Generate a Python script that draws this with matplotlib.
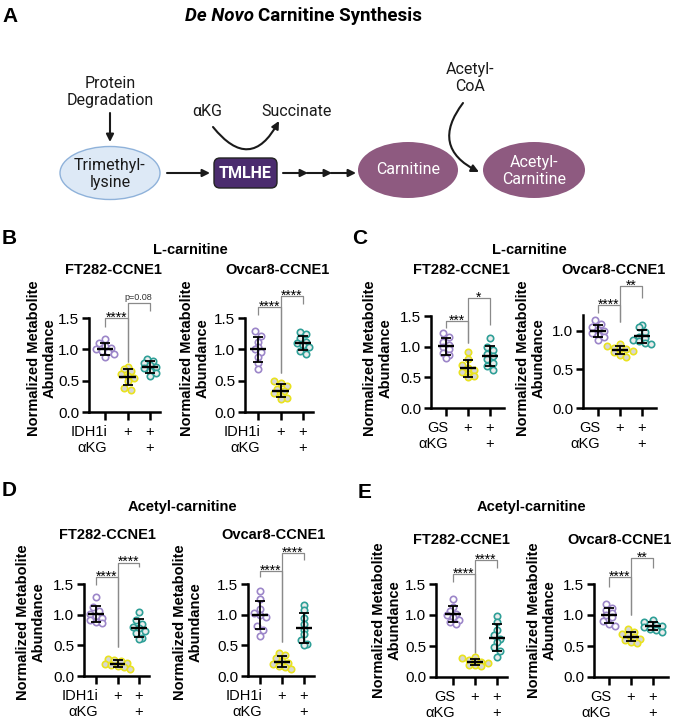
import numpy as np
import matplotlib
matplotlib.use("Agg")
import matplotlib.pyplot as plt
from matplotlib.patches import Ellipse, FancyBboxPatch, FancyArrowPatch
from matplotlib.transforms import blended_transform_factory

plt.rcParams['font.family'] = ['Liberation Sans', 'DejaVu Sans']

# ---------------- data (normalized metabolite abundance) ----------------
# B: L-carnitine, IDH1 inhibitor (IDH1i) +/- aKG
b_ft282_ctrl = [1.16, 1.10, 1.05, 1.02, 1.00, 0.98, 0.95, 0.92, 0.87]
b_ft282_inh = [0.72, 0.68, 0.65, 0.60, 0.58, 0.55, 0.50, 0.38, 0.35]
b_ft282_akg = [0.85, 0.82, 0.78, 0.75, 0.72, 0.70, 0.66, 0.62, 0.58]
b_ovcar8_ctrl = [1.30, 1.22, 1.12, 1.04, 1.00, 0.96, 0.88, 0.78, 0.68]
b_ovcar8_inh = [0.50, 0.46, 0.42, 0.36, 0.33, 0.30, 0.26, 0.22, 0.20]
b_ovcar8_akg = [1.28, 1.24, 1.18, 1.12, 1.10, 1.07, 1.03, 0.98, 0.92]
# C: L-carnitine, GS +/- aKG
c_ft282_ctrl = [1.22, 1.16, 1.08, 1.03, 1.00, 0.96, 0.90, 0.86, 0.82]
c_ft282_inh = [0.92, 0.80, 0.70, 0.65, 0.62, 0.58, 0.55, 0.52, 0.50]
c_ft282_akg = [1.14, 1.00, 0.95, 0.88, 0.85, 0.80, 0.74, 0.68, 0.62]
c_ovcar8_ctrl = [1.13, 1.08, 1.04, 1.01, 1.00, 0.97, 0.94, 0.91, 0.88]
c_ovcar8_inh = [0.83, 0.80, 0.78, 0.77, 0.76, 0.74, 0.72, 0.69, 0.66]
c_ovcar8_akg = [1.07, 1.04, 0.98, 0.92, 0.90, 0.88, 0.86, 0.84, 0.83]
# D: Acetyl-carnitine, IDH1i +/- aKG
d_ft282_ctrl = [1.28, 1.12, 1.06, 1.01, 0.98, 0.95, 0.92, 0.88, 0.86]
d_ft282_inh = [0.28, 0.26, 0.24, 0.22, 0.20, 0.18, 0.16, 0.14, 0.12]
d_ft282_akg = [1.05, 0.92, 0.85, 0.80, 0.78, 0.74, 0.70, 0.62, 0.60]
d_ovcar8_ctrl = [1.38, 1.25, 1.10, 1.02, 1.00, 0.97, 0.82, 0.75, 0.65]
d_ovcar8_inh = [0.37, 0.34, 0.30, 0.24, 0.22, 0.20, 0.17, 0.14, 0.12]
d_ovcar8_akg = [1.15, 1.08, 0.95, 0.85, 0.75, 0.68, 0.58, 0.52, 0.50]
# E: Acetyl-carnitine, GS +/- aKG
e_ft282_ctrl = [1.26, 1.13, 1.06, 1.02, 1.00, 0.96, 0.92, 0.88, 0.86]
e_ft282_inh = [0.32, 0.30, 0.27, 0.26, 0.24, 0.22, 0.20, 0.19, 0.17]
e_ft282_akg = [0.98, 0.88, 0.76, 0.68, 0.62, 0.56, 0.48, 0.42, 0.32]
e_ovcar8_ctrl = [1.17, 1.12, 1.08, 1.04, 1.00, 0.96, 0.90, 0.86, 0.82]
e_ovcar8_inh = [0.78, 0.73, 0.70, 0.67, 0.65, 0.62, 0.59, 0.57, 0.55]
e_ovcar8_akg = [0.92, 0.88, 0.86, 0.84, 0.82, 0.80, 0.78, 0.76, 0.73]

row1_signs = ["", "+", "+"]
row2_signs = ["", "", "+"]
yticks_15 = [0.0, 0.5, 1.0, 1.5]
yticks_10 = [0.0, 0.5, 1.0]
stars_b_ft = ["****", "p=0.08"]
stars_b_ov = ["****", "****"]
stars_c_ft = ["***", "*"]
stars_c_ov = ["****", "**"]
stars_d_ft = ["****", "****"]
stars_d_ov = ["****", "****"]
stars_e_ft = ["****", "****"]
stars_e_ov = ["****", "**"]

group_colors = ["#9c86c9", "#e9e21f", "#2e9f97"]
group_faces = ["#ffffff", "#d6d6d6", "#ececec"]

# ---------------- figure ----------------
W, H = 676, 720
fig = plt.figure(figsize=(W / 100, H / 100), dpi=100)
axd = fig.add_axes([0, 0, 1, 1])
axd.set_xlim(0, W)
axd.set_ylim(H, 0)
axd.axis('off')

DF = ['Roboto', 'DejaVu Sans']
ink = '#1a1a1a'

# ---- Panel A: pathway diagram ----
axd.text(2, 17, "A", fontsize=15, weight='bold', ha='left', va='center')
t1 = axd.text(185, 16, "De Novo", fontsize=13.5, weight='bold', style='italic',
              family=DF, ha='left', va='center')
axd.annotate("Carnitine Synthesis", xy=(1, 0), xycoords=t1, xytext=(3, 0),
             textcoords='offset points', fontsize=13.5, weight='bold', family=DF,
             ha='left', va='bottom')

axd.text(110, 92, "Protein\nDegradation", fontsize=11.5, family=DF, ha='center',
         va='center', linespacing=1.1, color=ink)
def arrow(p, q, **kw):
    a = FancyArrowPatch(p, q, arrowstyle='-|>', mutation_scale=11, lw=1.5,
                        color=ink, shrinkA=0, shrinkB=0, **kw)
    axd.add_patch(a)
arrow((110, 113), (110, 142))
axd.add_patch(Ellipse((110, 173), 100, 53, facecolor='#dde9f6', edgecolor='#8fb2da', lw=1))
axd.text(110, 174, "Trimethyl-\nlysine", fontsize=11.5, family=DF, ha='center',
         va='center', linespacing=1.1, color=ink)
arrow((167, 173), (210, 173))
axd.add_patch(FancyBboxPatch((214, 158), 63, 30, boxstyle='round,pad=0,rounding_size=6',
                             facecolor='#4b2c6e', edgecolor='#222222', lw=1))
axd.text(245.5, 173, "TMLHE", fontsize=11.5, weight='bold', family=DF, ha='center',
         va='center', color='white')
axd.text(207, 112, "αKG", fontsize=11.5, family=DF, ha='center', va='center', color=ink)
axd.text(297, 112, "Succinate", fontsize=11.5, family=DF, ha='center', va='center', color=ink)
arrow((213, 127), (279, 121), connectionstyle='arc3,rad=0.75')
arrow((283, 173), (308, 173))
arrow((307, 173), (332, 173))
arrow((331, 173), (356, 173))
axd.add_patch(Ellipse((408, 170), 100, 56, facecolor='#8e5a80', edgecolor='none'))
axd.text(408, 170, "Carnitine", fontsize=11.5, family=DF, ha='center', va='center', color='white')
axd.add_patch(Ellipse((534, 170), 102, 56, facecolor='#8e5a80', edgecolor='none'))
axd.text(534, 171, "Acetyl-\nCarnitine", fontsize=11.5, family=DF, ha='center',
         va='center', linespacing=1.1, color='white')
axd.text(470, 78, "Acetyl-\nCoA", fontsize=11.5, family=DF, ha='center', va='center',
         linespacing=1.1, color=ink)
arrow((463, 103), (479, 172), connectionstyle='arc3,rad=0.6')

# ---- panel headers ----
def ptext(x, y, s, **kw):
    axd.text(x, y, s, ha='center', va='center', **kw)

for letter, x, y in [("B", 2, 238), ("C", 352, 238), ("D", 2, 490), ("E", 358, 493)]:
    axd.text(x, y, letter, fontsize=15, weight='bold', ha='left', va='center')
ptext(190, 250, "L-carnitine", fontsize=10.5, weight='bold')
ptext(529, 250, "L-carnitine", fontsize=10.5, weight='bold')
ptext(182, 507, "Acetyl-carnitine", fontsize=10.5, weight='bold')
ptext(531, 507, "Acetyl-carnitine", fontsize=10.5, weight='bold')

# ---- scatter sub-plots ----
def row_offsets(ypx, d):
    """GraphPad-like scatter: bin points into rows of height d, centre each row."""
    bins = np.floor(np.asarray(ypx) / d).astype(int)
    offs = np.zeros(len(ypx))
    for b in np.unique(bins):
        idx = np.where(bins == b)[0]
        n = len(idx)
        offs[idx] = (np.arange(n) - (n - 1) / 2.0) * d
    return offs

def bracket(ax, x0, x1, h, l, r, label):
    ax.plot([x0, x0, x1, x1], [l, h, h, r], color='#8a8a8a', lw=0.9,
            clip_on=False, zorder=1, solid_capstyle='butt')
    if label.startswith('p='):
        ax.annotate(label, xy=((x0 + x1) / 2, h), xytext=(0, 1), textcoords='offset points',
                    ha='center', va='bottom', fontsize=6.5, color='#333333',
                    annotation_clip=False)
    else:
        ax.annotate(label, xy=((x0 + x1) / 2, h), xytext=(0, -2.6), textcoords='offset points',
                    ha='center', va='baseline', fontsize=10, color='black',
                    annotation_clip=False)

subplots = [
    dict(groups=(b_ft282_ctrl, b_ft282_inh, b_ft282_akg), ax_x=89, t0=105, t2=150, x_end=160,
         top=318, bot=412, ymax=1.5, yticks=yticks_15, row1="IDH1i", title="FT282-CCNE1",
         title_xy=(113, 270), ylab_xy=(42, 358), stars=stars_b_ft,
         br=[(1.50, 1.36, 0.80), (1.74, 0.80, 1.61)]),
    dict(groups=(b_ovcar8_ctrl, b_ovcar8_inh, b_ovcar8_akg), ax_x=245, t0=258, t2=303, x_end=313,
         top=318, bot=412, ymax=1.5, yticks=yticks_15, row1="IDH1i", title="Ovcar8-CCNE1",
         title_xy=(277, 270), ylab_xy=(195, 358), stars=stars_b_ov,
         br=[(1.68, 1.55, 0.62), (1.85, 0.62, 1.72)]),
    dict(groups=(c_ft282_ctrl, c_ft282_inh, c_ft282_akg), ax_x=431, t0=446, t2=490, x_end=504,
         top=316, bot=408, ymax=1.5, yticks=yticks_15, row1="GS", title="FT282-CCNE1",
         title_xy=(461, 270), ylab_xy=(378, 358), stars=stars_c_ft,
         br=[(1.42, 1.30, 1.06), (1.79, 1.06, 1.35)]),
    dict(groups=(c_ovcar8_ctrl, c_ovcar8_inh, c_ovcar8_akg), ax_x=583, t0=598, t2=642, x_end=656,
         top=315, bot=408, ymax=1.2, yticks=yticks_10, row1="GS", title="Ovcar8-CCNE1",
         title_xy=(613, 270), ylab_xy=(531, 358), stars=stars_c_ov,
         br=[(1.33, 1.23, 1.11), (1.57, 1.11, 1.42)]),
    dict(groups=(d_ft282_ctrl, d_ft282_inh, d_ft282_akg), ax_x=84, t0=96, t2=139, x_end=149,
         top=584, bot=676, ymax=1.5, yticks=yticks_15, row1="IDH1i", title="FT282-CCNE1",
         title_xy=(107, 535), ylab_xy=(31, 622), stars=stars_d_ft,
         br=[(1.61, 1.48, 0.48), (1.85, 0.48, 1.77)]),
    dict(groups=(d_ovcar8_ctrl, d_ovcar8_inh, d_ovcar8_akg), ax_x=248, t0=260, t2=304, x_end=314,
         top=584, bot=676, ymax=1.5, yticks=yticks_15, row1="IDH1i", title="Ovcar8-CCNE1",
         title_xy=(273, 535), ylab_xy=(188, 622), stars=stars_d_ov,
         br=[(1.71, 1.61, 0.56), (2.00, 0.56, 1.89)]),
    dict(groups=(e_ft282_ctrl, e_ft282_inh, e_ft282_akg), ax_x=436, t0=453, t2=497, x_end=507,
         top=584, bot=677, ymax=1.5, yticks=yticks_15, row1="GS", title="FT282-CCNE1",
         title_xy=(461, 540), ylab_xy=(387, 620), stars=stars_e_ft,
         br=[(1.66, 1.53, 0.38), (1.89, 0.38, 1.76)]),
    dict(groups=(e_ovcar8_ctrl, e_ovcar8_inh, e_ovcar8_akg), ax_x=594, t0=609, t2=653, x_end=668,
         top=584, bot=677, ymax=1.5, yticks=yticks_15, row1="GS", title="Ovcar8-CCNE1",
         title_xy=(619, 540), ylab_xy=(542, 620), stars=stars_e_ov,
         br=[(1.61, 1.45, 1.00), (1.92, 1.00, 1.76)]),
]

for sp in subplots:
    ppg = (sp['t2'] - sp['t0']) / 2.0
    ppy = (sp['bot'] - sp['top']) / sp['ymax']
    ax = fig.add_axes([sp['ax_x'] / W, 1 - sp['bot'] / H, (sp['x_end'] - sp['ax_x']) / W,
                       (sp['bot'] - sp['top']) / H])
    ax.set_xlim(-(sp['t0'] - sp['ax_x']) / ppg, 2 + (sp['x_end'] - sp['t2']) / ppg)
    ax.set_ylim(0, sp['ymax'])
    ax.patch.set_visible(False)
    for s in ['top', 'right']:
        ax.spines[s].set_visible(False)
    for s in ['left', 'bottom']:
        ax.spines[s].set_linewidth(1.8)
        ax.spines[s].set_capstyle('projecting')
    ax.set_xticks([0, 1, 2])
    ax.set_xticklabels([])
    ax.tick_params(axis='x', length=6, width=1.8, direction='out')
    ax.set_yticks(sp['yticks'])
    ax.set_yticklabels([f"{t:.1f}" for t in sp['yticks']])
    ax.tick_params(axis='y', length=5, width=1.8, direction='out', labelsize=11, pad=2)

    for i, vals in enumerate(sp['groups']):
        v = np.asarray(vals, dtype=float)
        offs_px = row_offsets(v * ppy, 6.3)
        xs = i + offs_px / ppg
        ax.scatter(xs, v, s=21, facecolors=group_faces[i], edgecolors=group_colors[i],
                   linewidths=1.2, zorder=2, clip_on=False)
        m, sd = v.mean(), v.std(ddof=1)
        ax.errorbar(i, m, yerr=sd, fmt='none', ecolor='black', elinewidth=1.3,
                    capsize=3.5, capthick=1.3, zorder=3)
        ax.plot([i - 0.36, i + 0.36], [m, m], color='black', lw=1.7, zorder=3,
                solid_capstyle='butt')

    (h1, l1, r1), (h2, l2, r2) = sp['br']
    bracket(ax, 0, 1, h1, l1, r1, sp['stars'][0])
    bracket(ax, 1, 2, h2, l2, r2, sp['stars'][1])

    tr = blended_transform_factory(ax.transData, axd.transData)
    y1, y2 = sp['bot'] + 20, sp['bot'] + 36
    ax.text(0.1, y1, sp['row1'], transform=tr, ha='right', va='center', fontsize=10.5)
    ax.text(0.1, y2, "αKG", transform=tr, ha='right', va='center', fontsize=10.5)
    for i in range(3):
        ax.text(i, y1, row1_signs[i], transform=tr, ha='center', va='center', fontsize=10.5)
        ax.text(i, y2, row2_signs[i], transform=tr, ha='center', va='center', fontsize=10.5)

    ptext(*sp['title_xy'], sp['title'], fontsize=10.5, weight='bold')
    axd.text(*sp['ylab_xy'], "Normalized Metabolite\nAbundance", rotation=90, ha='center',
             va='center', fontsize=10.5, weight='bold', linespacing=1.2, multialignment='center')

fig.savefig("out.png", dpi=100)
